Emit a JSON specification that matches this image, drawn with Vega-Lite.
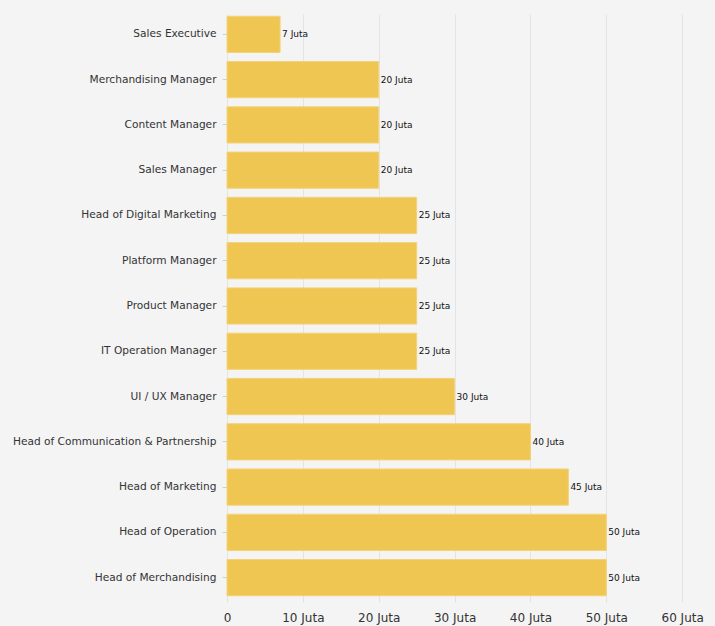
{
  "$schema": "https://vega.github.io/schema/vega-lite/v6.json",
  "autosize": {"type": "none"},
  "padding": {"left": 227, "top": 14, "right": 4, "bottom": 28},
  "width": 484,
  "height": 584,
  "background": "#f4f4f4",
  "config": {"view": {"stroke": null}, "font": "DejaVu Sans"},
  "data": {"values": [
    {"role": "Sales Executive", "gaji": 7, "label": "7 Juta"},
    {"role": "Merchandising Manager", "gaji": 20, "label": "20 Juta"},
    {"role": "Content Manager", "gaji": 20, "label": "20 Juta"},
    {"role": "Sales Manager", "gaji": 20, "label": "20 Juta"},
    {"role": "Head of Digital Marketing", "gaji": 25, "label": "25 Juta"},
    {"role": "Platform Manager", "gaji": 25, "label": "25 Juta"},
    {"role": "Product Manager", "gaji": 25, "label": "25 Juta"},
    {"role": "IT Operation Manager", "gaji": 25, "label": "25 Juta"},
    {"role": "UI / UX Manager", "gaji": 30, "label": "30 Juta"},
    {"role": "Head of Communication & Partnership", "gaji": 40, "label": "40 Juta"},
    {"role": "Head of Marketing", "gaji": 45, "label": "45 Juta"},
    {"role": "Head of Operation", "gaji": 50, "label": "50 Juta"},
    {"role": "Head of Merchandising", "gaji": 50, "label": "50 Juta"}
  ]},
  "encoding": {
    "y": {"field": "role", "type": "nominal", "sort": null,
      "scale": {"paddingInner": 0.2, "paddingOuter": 0.05},
      "axis": {"title": null, "domain": false, "ticks": true, "tickColor": "#d0d0d0", "tickSize": 5, "labelFontSize": 10.6, "labelColor": "#333333", "labelPadding": 6, "labelLimit": 300}},
    "x": {"field": "gaji", "type": "quantitative",
      "scale": {"domain": [0, 63.8], "nice": false},
      "axis": {"title": null, "values": [0, 10, 20, 30, 40, 50, 60], "domain": false, "ticks": true, "tickColor": "#e0e0e0", "tickSize": 4, "grid": true, "gridColor": "#e4e4e4", "labelFontSize": 12, "labelColor": "#333333", "labelPadding": 10, "labelFlush": false,
        "labelExpr": "datum.value == 0 ? '0' : datum.value + ' Juta'"}}
  },
  "layer": [
    {"mark": {"type": "bar", "color": "#f0c652", "stroke": "#f3d27a", "strokeWidth": 1}},
    {"mark": {"type": "text", "align": "left", "dx": 2, "fontSize": 9, "color": "#111111"},
     "encoding": {"text": {"field": "label", "type": "nominal"}}}
  ]
}
